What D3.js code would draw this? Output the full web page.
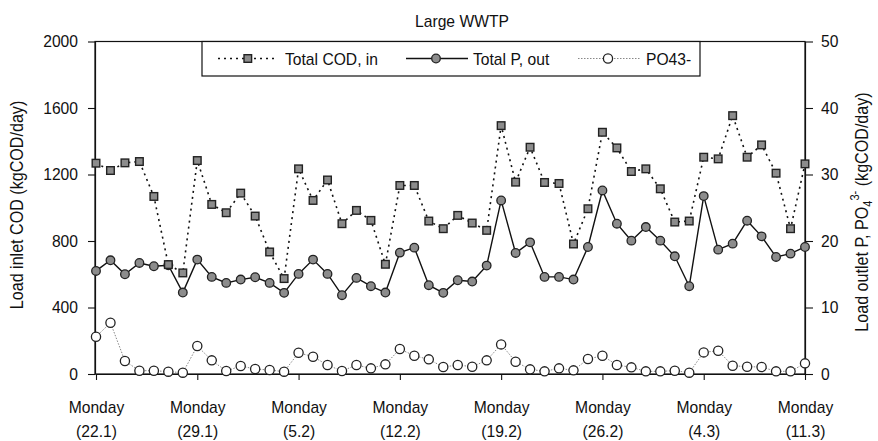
<!DOCTYPE html>
<html>
<head>
<meta charset="utf-8">
<script src="https://cdn.jsdelivr.net/npm/d3@7"></script>
<style>
  body { margin: 0; background: #fff; }
  text { font-family: "Liberation Sans", Arial, sans-serif; fill: #111; }
</style>
</head>
<body>
<script>
// daily values, 22.1 .. 11.3 (50 days)
const days = d3.range(50);
const tickDays = [0, 7, 14, 21, 28, 35, 42, 49];
const tickDates = ["22.1", "29.1", "5.2", "12.2", "19.2", "26.2", "4.3", "11.3"];
const leftTicks = [0, 400, 800, 1200, 1600, 2000];
const rightTicks = [0, 10, 20, 30, 40, 50];

const codIn = [1268, 1224, 1270, 1278, 1068, 658, 608, 1284, 1020, 970,
               1088, 950, 734, 574, 1234, 1044, 1167, 904, 984, 924,
               660, 1134, 1134, 920, 874, 954, 908, 864, 1494, 1154,
               1364, 1152, 1146, 782, 994, 1454, 1360, 1218, 1234, 1114,
               914, 920, 1304, 1294, 1554, 1304, 1378, 1208, 874, 1264];
const pOut = [15.5, 17.1, 15.0, 16.7, 16.2, 16.35, 12.25, 17.2, 14.6, 13.7,
              14.2, 14.55, 13.7, 12.2, 15.05, 17.2, 15.05, 11.85, 14.45, 13.2,
              12.25, 18.25, 19.0, 13.35, 12.2, 14.1, 13.9, 16.3, 26.1, 18.2,
              19.8, 14.6, 14.6, 14.2, 19.1, 27.6, 22.6, 20.05, 22.1, 20.05,
              17.7, 13.2, 26.75, 18.7, 19.6, 23.05, 20.7, 17.6, 18.1, 19.1];
const po4 = [5.6, 7.7, 1.95, 0.5, 0.5, 0.35, 0.2, 4.2, 2.05, 0.45,
             1.2, 0.75, 0.6, 0.35, 3.2, 2.6, 1.35, 0.45, 1.35, 0.85,
             1.45, 3.75, 2.75, 2.2, 1.05, 1.35, 1.1, 2.05, 4.45, 1.85,
             0.7, 0.4, 0.85, 0.55, 2.25, 2.75, 1.35, 1.0, 0.4, 0.4,
             0.5, 0.2, 3.25, 3.5, 1.25, 1.1, 1.05, 0.4, 0.4, 1.6];

const W = 878, H = 441;
const L = 95, R = 805, T = 41.5, B = 374;

const svg = d3.select("body").append("svg")
  .attr("width", W).attr("height", H);

const x = d3.scaleLinear().domain([0, 49]).range([L + 1, R]);
const yL = d3.scaleLinear().domain([0, 2000]).range([B, T]);
const yR = d3.scaleLinear().domain([0, 50]).range([B, T]);

// frame
svg.append("rect")
  .attr("x", L).attr("y", T).attr("width", R - L).attr("height", B - T)
  .attr("fill", "none").attr("stroke", "#111").attr("stroke-width", 1.2);

// axes
function styleAxis(g) {
  g.select(".domain").attr("stroke", "#111").attr("stroke-width", 1.2);
  g.selectAll(".tick line").attr("stroke", "#111").attr("stroke-width", 1.1);
  g.selectAll(".tick text").attr("font-size", 17).attr("fill", "#111")
    .attr("font-family", "Liberation Sans, Arial, sans-serif");
}

svg.append("g")
  .attr("transform", `translate(${L},0)`)
  .call(d3.axisLeft(yL).tickValues(leftTicks).tickFormat(d3.format("d"))
    .tickSize(7).tickPadding(10).tickSizeOuter(0))
  .call(styleAxis);

svg.append("g")
  .attr("transform", `translate(${R},0)`)
  .call(d3.axisRight(yR).tickValues(rightTicks).tickFormat(d3.format("d"))
    .tickSize(8).tickPadding(8).tickSizeOuter(0))
  .call(styleAxis);

const xAxis = svg.append("g")
  .attr("transform", `translate(0,${B})`)
  .call(d3.axisBottom(x).tickValues(tickDays).tickSize(6).tickSizeOuter(0).tickFormat(""))
  .call(styleAxis);
xAxis.selectAll(".tick").each(function (d, i) {
  const g = d3.select(this);
  g.append("text").attr("class", "xl").attr("text-anchor", "middle")
    .attr("font-size", 17).attr("y", 39).text("Monday");
  g.append("text").attr("class", "xl").attr("text-anchor", "middle")
    .attr("font-size", 17).attr("y", 63).text("(" + tickDates[i] + ")");
});

// lines
const lineCod = d3.line().x((d, i) => x(days[i])).y(d => yL(d));
const lineR = d3.line().x((d, i) => x(days[i])).y(d => yR(d));

svg.append("path").datum(po4)
  .attr("d", lineR).attr("fill", "none")
  .attr("stroke", "#888").attr("stroke-width", 1).attr("stroke-dasharray", "1.5,1.5");

svg.append("path").datum(pOut)
  .attr("d", lineR).attr("fill", "none")
  .attr("stroke", "#111").attr("stroke-width", 1.4);

svg.append("path").datum(codIn)
  .attr("d", lineCod).attr("fill", "none")
  .attr("stroke", "#111").attr("stroke-width", 1.6).attr("stroke-dasharray", "2,4");

// markers
svg.append("g").selectAll("circle")
  .data(po4).join("circle")
  .attr("cx", (d, i) => x(days[i])).attr("cy", d => yR(d)).attr("r", 4.6)
  .attr("fill", "#fff").attr("stroke", "#222").attr("stroke-width", 1.3);

svg.append("g").selectAll("circle")
  .data(pOut).join("circle")
  .attr("cx", (d, i) => x(days[i])).attr("cy", d => yR(d)).attr("r", 4.3)
  .attr("fill", "#8c8c8c").attr("stroke", "#222").attr("stroke-width", 1.3);

svg.append("g").selectAll("rect")
  .data(codIn).join("rect")
  .attr("x", (d, i) => x(days[i]) - 3.8).attr("y", d => yL(d) - 3.8)
  .attr("width", 7.6).attr("height", 7.6)
  .attr("fill", "#8c8c8c").attr("stroke", "#222").attr("stroke-width", 1.4);

// legend
const lg = svg.append("g");
lg.append("rect")
  .attr("x", 202).attr("y", T).attr("width", 498).attr("height", 34.5)
  .attr("fill", "#fff").attr("stroke", "#111").attr("stroke-width", 1.2);
const ly = 58.5;
lg.append("line").attr("x1", 218).attr("x2", 277).attr("y1", ly).attr("y2", ly)
  .attr("stroke", "#111").attr("stroke-width", 1.6).attr("stroke-dasharray", "2,4");
lg.append("rect").attr("x", 244).attr("y", ly - 3.8).attr("width", 7.6).attr("height", 7.6)
  .attr("fill", "#8c8c8c").attr("stroke", "#222").attr("stroke-width", 1.4);
lg.append("text").attr("x", 285).attr("y", ly + 6).attr("font-size", 17).text("Total COD, in");

lg.append("line").attr("x1", 406).attr("x2", 468).attr("y1", ly).attr("y2", ly)
  .attr("stroke", "#111").attr("stroke-width", 1.4);
lg.append("circle").attr("cx", 436).attr("cy", ly).attr("r", 4.3)
  .attr("fill", "#8c8c8c").attr("stroke", "#222").attr("stroke-width", 1.3);
lg.append("text").attr("x", 473).attr("y", ly + 6).attr("font-size", 17).text("Total P, out");

lg.append("line").attr("x1", 578).attr("x2", 641).attr("y1", ly).attr("y2", ly)
  .attr("stroke", "#888").attr("stroke-width", 1).attr("stroke-dasharray", "1.5,1.5");
lg.append("circle").attr("cx", 608).attr("cy", ly).attr("r", 4.6)
  .attr("fill", "#fff").attr("stroke", "#222").attr("stroke-width", 1.3);
lg.append("text").attr("x", 646).attr("y", ly + 6).attr("font-size", 17).text("PO43-");

// titles
svg.append("text").attr("x", 462).attr("y", 26.5).attr("text-anchor", "middle")
  .attr("font-size", 17).text("Large WWTP");

svg.append("text")
  .attr("transform", "translate(23,205) rotate(-90)")
  .attr("text-anchor", "middle").attr("font-size", 17.5)
  .text("Load inlet COD (kgCOD/day)");

const rt = svg.append("text")
  .attr("transform", "translate(868,212) rotate(-90)")
  .attr("text-anchor", "middle").attr("font-size", 17.5);
rt.append("tspan").text("Load outlet P, PO");
rt.append("tspan").attr("font-size", 12).attr("dy", 4).text("4");
rt.append("tspan").attr("font-size", 12).attr("dy", -13).text("3-");
rt.append("tspan").attr("dy", 9).text(" (kgCOD/day)");

// the scan's lettering is a bit narrower than Arial
svg.selectAll("text").each(function () {
  const len = this.getComputedTextLength();
  if (len > 0) {
    d3.select(this).attr("textLength", len * 0.92).attr("lengthAdjust", "spacingAndGlyphs");
  }
});
</script>
</body>
</html>
